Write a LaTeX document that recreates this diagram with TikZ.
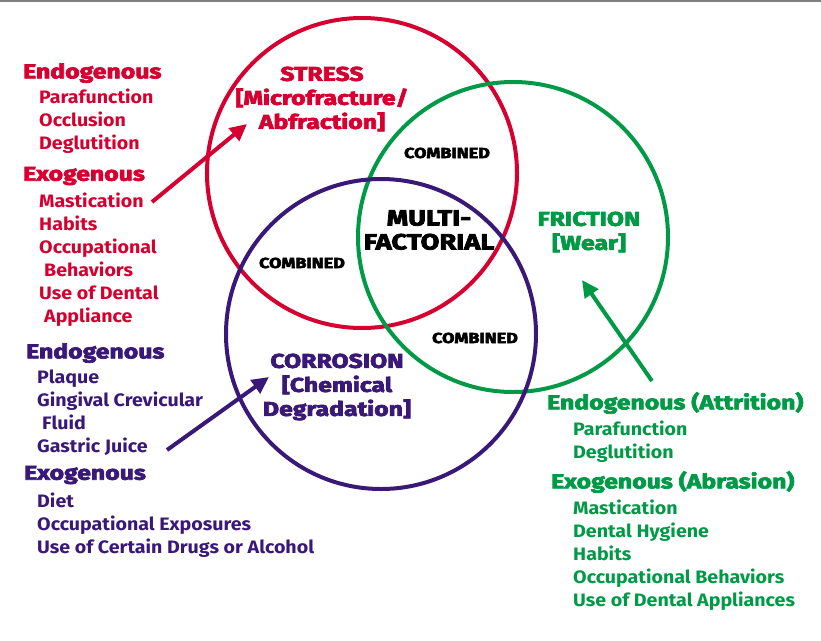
\documentclass[tikz,border=0pt]{standalone}
\usepackage{fontspec}
\setmainfont{Fira Sans}[BoldFeatures={FakeStretch=1.09}]
\newfontfamily\heavyfont{Fira Sans}[BoldFeatures={FakeBold=3.5,FakeStretch=1.24}]
\usetikzlibrary{arrows.meta}
\definecolor{stressred}{HTML}{D5002F}
\definecolor{frictiongreen}{HTML}{009A46}
\definecolor{corrpurple}{HTML}{3A1878}
\tikzset{
  ring/.style={line width=4pt},
  head/.style={font=\heavyfont\bfseries\fontsize{20}{22}\selectfont, inner sep=0pt, anchor=west},
  items/.style={font=\bfseries\fontsize{18}{23}\selectfont, align=left, inner sep=0pt, anchor=north west},
  title/.style={font=\heavyfont\bfseries\fontsize{20}{24}\selectfont, align=center, inner sep=0pt},
  combo/.style={font=\heavyfont\bfseries\fontsize{14.5}{16}\selectfont, inner sep=0pt},
  push/.style={line width=4pt, -{Triangle[length=17pt,width=16pt]}}
}
\begin{document}
\begin{tikzpicture}[x=1pt,y=-1pt]
  \useasboundingbox (0,0) rectangle (821,640);
  \draw[gray, line width=1.5pt] (0,0.75) -- (821,0.75);

  % the three circles
  \draw[ring, stressred] (362,173) circle (155pt);
  \draw[ring, frictiongreen] (513,237) circle (155pt);
  \draw[ring, corrpurple] (381,334) circle (155pt);

  % titles in the circles
  \node[title, stressred] (stress) at (322,99) {STRESS\\{[Microfracture/}\\Abfraction]};
  \node[title, frictiongreen] (friction) at (589,232) {FRICTION\\{[Wear]}};
  \node[title, corrpurple] (corrosion) at (337,387) {CORROSION\\{[Chemical}\\Degradation]};
  \node[title, font=\heavyfont\bfseries\fontsize{22}{24}\selectfont] (multi) at (429,230) {MULTI-\\FACTORIAL};
  \node[combo] (combtop) at (447,153) {COMBINED};
  \node[combo] (combleft) at (302,263) {COMBINED};
  \node[combo] (combright) at (475,338) {COMBINED};

  % stress causes
  \node[head, stressred] (redendo) at (23,73) {Endogenous};
  \node[items, stressred] (redendolist) at (39,89) {Parafunction\\Occlusion\\Deglutition};
  \node[head, stressred] (redexo) at (23,176) {Exogenous};
  \node[items, stressred] (redexolist) at (39,193) {Mastication\\Habits\\Occupational\\\hspace{5pt}Behaviors\\Use of Dental\\\hspace{5pt}Appliance};

  % corrosion causes
  \node[head, corrpurple] (purpleendo) at (26,353) {Endogenous};
  \node[items, corrpurple] (purpleendolist) at (37,370) {Plaque\\Gingival Crevicular\\\hspace{5pt}Fluid\\Gastric Juice};
  \node[head, corrpurple] (purpleexo) at (24,475) {Exogenous};
  \node[items, corrpurple] (purpleexolist) at (37,493) {Diet\\Occupational Exposures\\Use of Certain Drugs or Alcohol};

  % friction causes
  \node[head, frictiongreen] (greenendo) at (547,403) {Endogenous (Attrition)};
  \node[items, frictiongreen] (greenendolist) at (573,421) {Parafunction\\Deglutition};
  \node[head, frictiongreen] (greenexo) at (551,482) {Exogenous (Abrasion)};
  \node[items, frictiongreen] (greenexolist) at (573,500) {Mastication\\Dental Hygiene\\Habits\\Occupational Behaviors\\Use of Dental Appliances};

  % arrows
  \coordinate (redtail) at (152,202);
  \coordinate (redtip) at (247,124);
  \coordinate (purpletail) at (167,450);
  \coordinate (purpletip) at (269,377);
  \coordinate (greentail) at (652,381);
  \coordinate (greentip) at (582,280);
  \draw[push, stressred] (redtail) -- (redtip);
  \draw[push, corrpurple] (purpletail) -- (purpletip);
  \draw[push, frictiongreen] (greentail) -- (greentip);
\end{tikzpicture}
\end{document}
